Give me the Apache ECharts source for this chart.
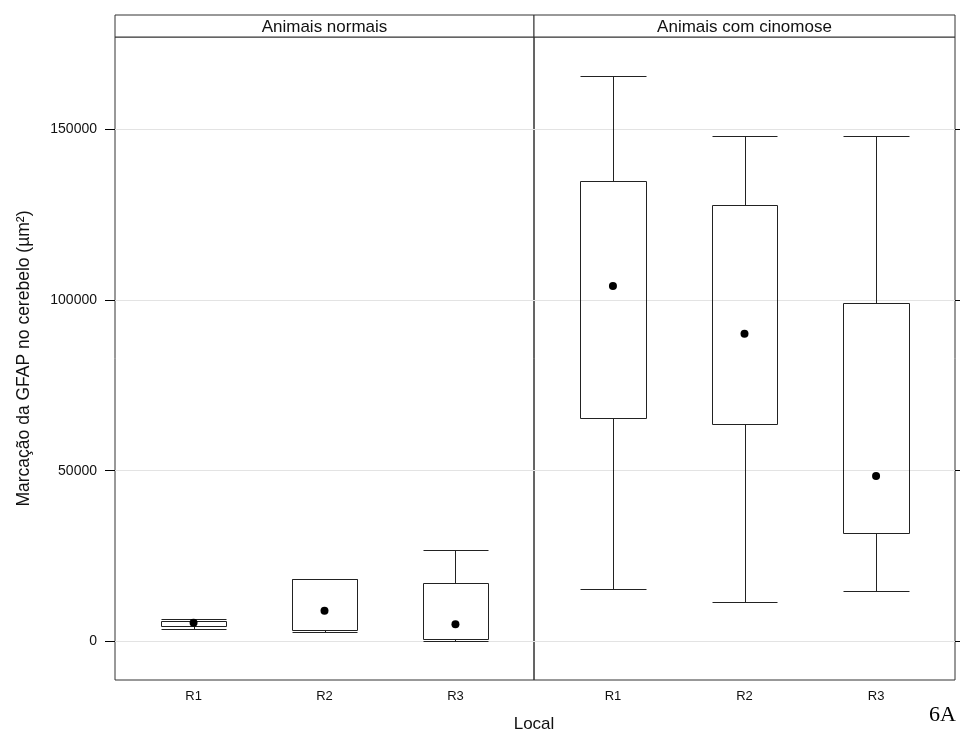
<!DOCTYPE html>
<html>
<head>
<meta charset="utf-8">
<script src="https://cdn.jsdelivr.net/npm/echarts@6/dist/echarts.min.js"></script>
<style>
  html, body { margin: 0; padding: 0; background: #fff; }
  #chart { width: 960px; height: 735px; }
</style>
</head>
<body>
<div id="chart"></div>
<script>
// valores (um painel por grupo)
var regioes = ['R1', 'R2', 'R3'];
var paineis = ['Animais normais', 'Animais com cinomose'];
var yTicks = [0, 50000, 100000, 150000];

var normaisMin     = [3630, 2670, 30];
var normaisQ1      = [4420, 3340, 700];
var normaisMediana = [5480, 9000, 5010];
var normaisQ3      = [5980, 18280, 17020];
var normaisMax     = [6560, 18280, 26770];

var cinoMin     = [15350, 11450, 14670];
var cinoQ1      = [65350, 63680, 31660];
var cinoMediana = [104100, 90100, 48450];
var cinoQ3      = [134950, 127830, 99030];
var cinoMax     = [165700, 148040, 148040];

var yMin = -11300, yMax = 177000;

function boxData(mn, q1, q3, mx) {
    return regioes.map(function (r, i) { return [i + 1, mn[i], q1[i], q3[i], mx[i]]; });
}
function medData(med) {
    return regioes.map(function (r, i) { return [i + 1, med[i]]; });
}

// meio pixel pra linha ficar nitida
function px(v) { return Math.round(v) + 0.5; }

// desenha caixa + bigodes no estilo bwplot (sem linha de mediana)
function renderBox(params, api) {
    var x = api.value(0);
    var lo = api.coord([x, api.value(1)]);
    var q1 = api.coord([x, api.value(2)]);
    var q3 = api.coord([x, api.value(3)]);
    var hi = api.coord([x, api.value(4)]);
    var half = api.size([0.5, 0])[0] / 2;
    var cx = px(hi[0]);
    var l = px(hi[0] - half), r = px(hi[0] + half);
    var yHi = px(hi[1]), yQ3 = px(q3[1]), yQ1 = px(q1[1]), yLo = px(lo[1]);
    var st = { stroke: '#222', lineWidth: 1, fill: null };
    return {
        type: 'group',
        children: [
            { type: 'line', shape: { x1: cx, y1: yHi, x2: cx, y2: yQ3 }, style: st },
            { type: 'line', shape: { x1: cx, y1: yQ1, x2: cx, y2: yLo }, style: st },
            { type: 'line', shape: { x1: l, y1: yHi, x2: r, y2: yHi }, style: st },
            { type: 'line', shape: { x1: l, y1: yLo, x2: r, y2: yLo }, style: st },
            { type: 'rect', shape: { x: l, y: yQ3, width: r - l, height: yQ1 - yQ3 },
              style: { stroke: '#222', lineWidth: 1, fill: 'transparent' } }
        ]
    };
}

function xAxisOf(idx) {
    return {
        gridIndex: idx, type: 'value', min: 0.4, max: 3.6,
        axisLine: { show: false },
        axisTick: { show: false },
        splitLine: { show: false },
        axisLabel: {
            customValues: [1, 2, 3], margin: 10, fontSize: 13, color: '#111',
            formatter: function (v) { return regioes[Math.round(v) - 1]; }
        }
    };
}

var chart = echarts.init(document.getElementById('chart'));
var option = {
    animation: false,
    textStyle: { fontFamily: 'Liberation Sans, Arial, sans-serif' },
    grid: [
        { left: 115, top: 37, width: 419, height: 643, show: true, borderColor: '#333', borderWidth: 1 },
        { left: 534, top: 37, width: 421, height: 643, show: true, borderColor: '#333', borderWidth: 1 }
    ],
    xAxis: [xAxisOf(0), xAxisOf(1)],
    yAxis: [
        {
            gridIndex: 0, type: 'value', min: yMin, max: yMax, position: 'left',
            name: 'Marcação da GFAP no cerebelo (µm²)', nameLocation: 'middle', nameGap: 82,
            nameTextStyle: { fontSize: 17.5, color: '#111' },
            axisLine: { show: false },
            axisTick: { show: true, customValues: yTicks, length: 10, lineStyle: { color: '#000' } },
            axisLabel: { customValues: yTicks, margin: 18, fontSize: 14, color: '#111',
                         formatter: function (v) { return String(v); } },
            splitLine: { show: true, lineStyle: { color: '#e3e3e3', width: 1 } }
        },
        {
            gridIndex: 1, type: 'value', min: yMin, max: yMax, position: 'right',
            axisLine: { show: false },
            axisTick: { show: true, customValues: yTicks, length: 10, lineStyle: { color: '#000' } },
            axisLabel: { show: false },
            splitLine: { show: true, lineStyle: { color: '#e3e3e3', width: 1 } }
        }
    ],
    series: [
        { type: 'custom', xAxisIndex: 0, yAxisIndex: 0, renderItem: renderBox,
          encode: { x: 0, y: [1, 2, 3, 4] }, data: boxData(normaisMin, normaisQ1, normaisQ3, normaisMax) },
        { type: 'custom', xAxisIndex: 1, yAxisIndex: 1, renderItem: renderBox,
          encode: { x: 0, y: [1, 2, 3, 4] }, data: boxData(cinoMin, cinoQ1, cinoQ3, cinoMax) },
        { type: 'scatter', xAxisIndex: 0, yAxisIndex: 0, symbolSize: 8,
          itemStyle: { color: '#000', opacity: 1 }, data: medData(normaisMediana) },
        { type: 'scatter', xAxisIndex: 1, yAxisIndex: 1, symbolSize: 8,
          itemStyle: { color: '#000', opacity: 1 }, data: medData(cinoMediana) }
    ],
    graphic: [
        { type: 'rect', shape: { x: 115, y: 15, width: 419, height: 22 }, style: { fill: '#fff', stroke: '#333', lineWidth: 1 } },
        { type: 'rect', shape: { x: 534, y: 15, width: 421, height: 22 }, style: { fill: '#fff', stroke: '#333', lineWidth: 1 } },
        { type: 'text', x: 324.5, y: 27, style: { text: paineis[0], align: 'center', verticalAlign: 'middle',
          fontSize: 17, fontFamily: 'Liberation Sans', fill: '#111' } },
        { type: 'text', x: 744.5, y: 27, style: { text: paineis[1], align: 'center', verticalAlign: 'middle',
          fontSize: 17, fontFamily: 'Liberation Sans', fill: '#111' } },
        { type: 'text', x: 534, y: 724, style: { text: 'Local', align: 'center', verticalAlign: 'middle',
          fontSize: 17, fontFamily: 'Liberation Sans', fill: '#111' } },
        { type: 'text', x: 956, y: 715, style: { text: '6A', align: 'right', verticalAlign: 'middle',
          fontSize: 22, fontFamily: 'Liberation Serif', fill: '#000' } }
    ]
};
chart.setOption(option);
</script>
</body>
</html>
